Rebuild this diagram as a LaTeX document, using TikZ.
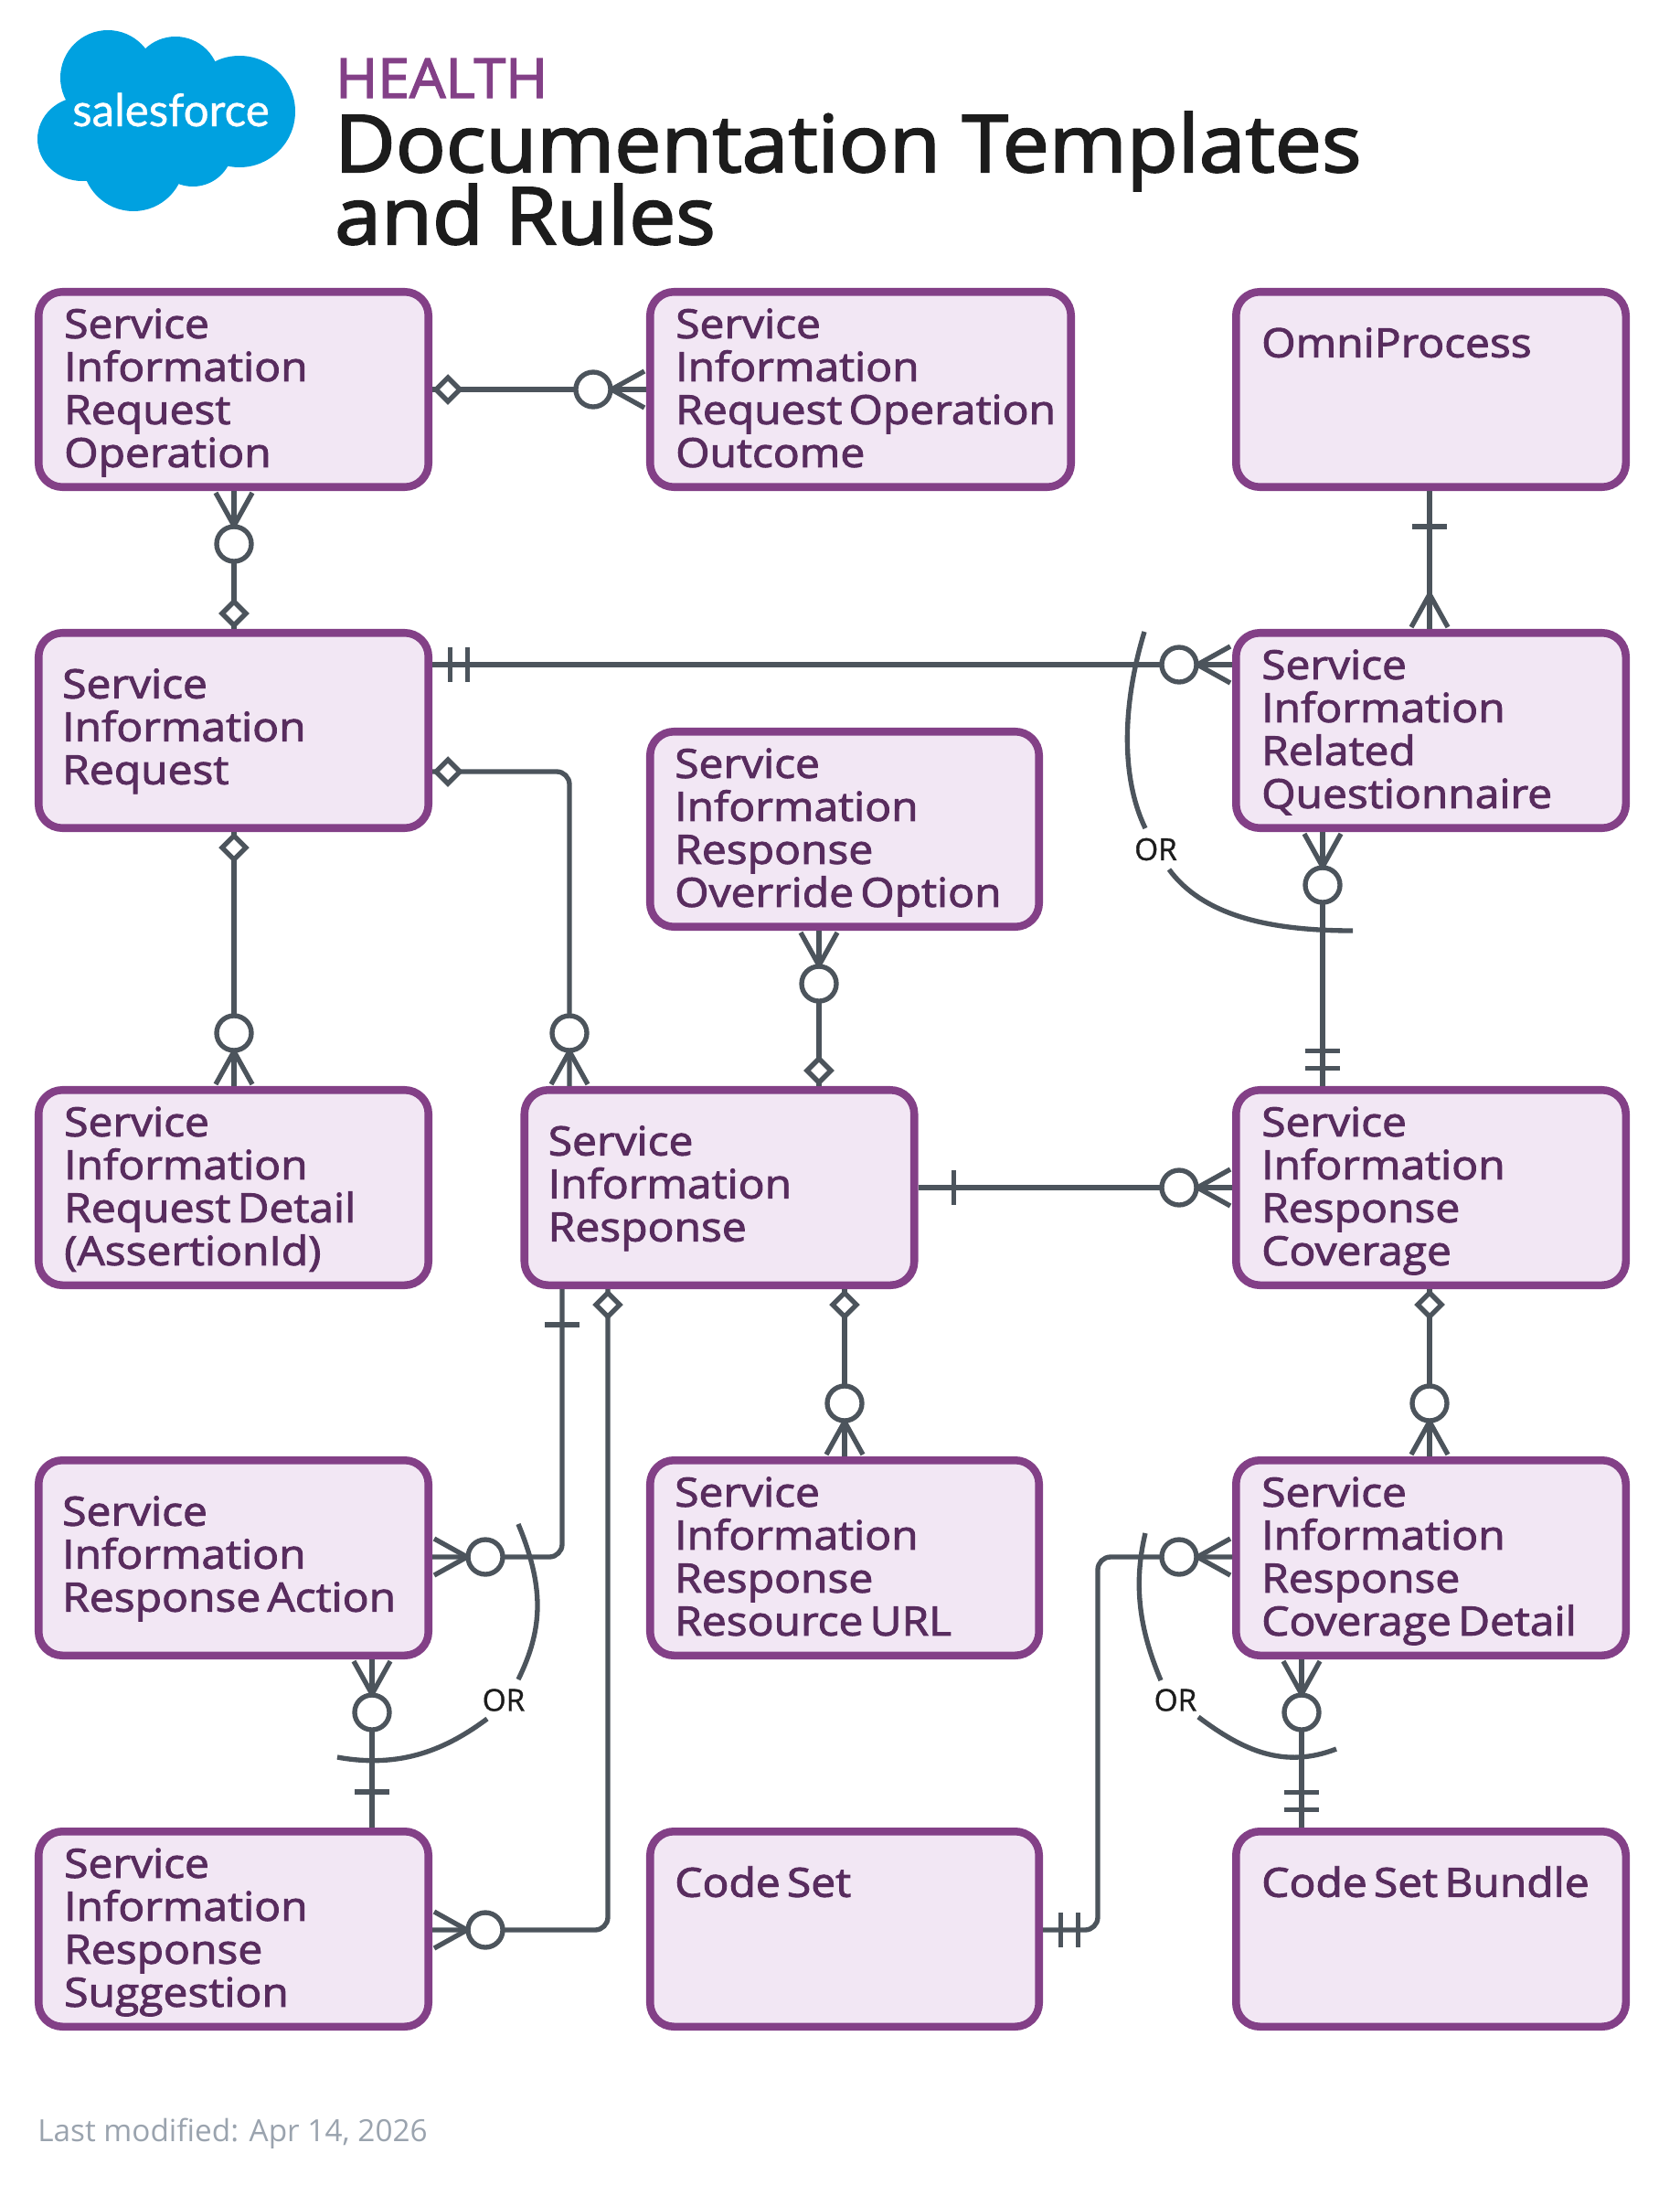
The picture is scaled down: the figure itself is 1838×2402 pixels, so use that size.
\documentclass[tikz,border=0pt]{standalone}
\usepackage{fontspec}
\setmainfont{Open Sans}
\newfontfamily\erfont{Open Sans}[FakeBold=2.2,FakeStretch=1.09]
\newfontfamily\ttlfont{Open Sans}[FakeBold=2.4,FakeStretch=1.053]
\newfontfamily\hlfont{Open Sans}[FakeBold=2.4,FakeStretch=1.04]
\newfontfamily\orfont{Open Sans}[FakeBold=1]
\newfontfamily\logofont{Lato}[FakeBold=0.8]
\definecolor{boxline}{HTML}{834087}
\definecolor{boxfill}{HTML}{F2E7F4}
\definecolor{boxtext}{HTML}{582C5E}
\definecolor{conncol}{HTML}{4C545C}
\definecolor{sfblue}{HTML}{00A1E0}
\definecolor{titlecol}{HTML}{1C1C1C}
\definecolor{footcol}{HTML}{9AA3AE}
\newcommand\erstrut{\spaceskip=5.4pt\relax\rule[-8pt]{0pt}{37.5pt}}
\newcommand\erend{\rule[-8pt]{0pt}{1pt}}
\newcommand\erdeep{\rule[-12pt]{0pt}{1pt}}
\tikzset{
  entity/.style n args={2}{draw=boxline,fill=boxfill,line width=6.4pt,rounded corners=19.5pt,
    align=left,font=\erfont\fontsize{33}{35.25}\selectfont,text=boxtext,
    minimum height={(222-8.5)*0.75pt},inner ysep=0pt,
    text width={(#1-8.5-2*#2)*0.75pt},inner xsep={#2*0.75pt},
    execute at begin node=\erstrut,execute at end node=\erend},
  conn/.style={draw=conncol,line width=4pt},
  er/.style={draw=conncol,line width=4pt,fill=none},
  erw/.style={draw=conncol,line width=4pt,fill=white},
  orlabel/.style={font=\orfont\fontsize{25}{25}\selectfont,text=titlecol,inner sep=0pt},
}
\newcommand\ermany[2]{\begin{scope}[shift={#1},rotate=#2]\draw[er] (2,-20)--(38,0)--(2,20);\end{scope}}
\newcommand\ermanyz[2]{\begin{scope}[shift={#1},rotate=#2]\draw[er] (2,-20)--(38,0)--(2,20);\draw[erw] (58,0) circle (19);\end{scope}}
\newcommand\erdia[2]{\begin{scope}[shift={#1},rotate=#2]\draw[erw] (4,0)--(17,-13)--(30,0)--(17,13)--cycle;\end{scope}}
\newcommand\erone[2]{\begin{scope}[shift={#1},rotate=#2]\draw[er] (39,-19)--(39,19);\end{scope}}
\newcommand\ertwo[2]{\begin{scope}[shift={#1},rotate=#2]\draw[er] (19.5,-19)--(19.5,19) (38.5,-19)--(38.5,19);\end{scope}}
\begin{document}
\begin{tikzpicture}[x=0.75pt,y=-0.75pt]
\useasboundingbox (0,0) rectangle (1838,2402);
% logo
\fill[sfblue] (118,85) circle (52) (192,88) circle (48) (262,122) circle (61)
  (90,152) ellipse (49 and 46) (146,175) circle (56) (211,160) circle (44) (175,125) circle (65);
\node[inner sep=0pt,anchor=base,text=white,font=\logofont\fontsize{37}{37}\selectfont] (logo) at (187,138) {salesforce};
% titles
\node[anchor=base west,inner sep=0pt,text=boxline,font=\hlfont\fontsize{45}{45}\selectfont] (health) at (367,107) {HEALTH};
\node[anchor=base west,inner sep=0pt,text=titlecol,font=\ttlfont\fontsize{65}{59.25}\selectfont] (title1) at (366,188) {Documentation Templates};
\node[anchor=base west,inner sep=0pt,text=titlecol,font=\ttlfont\fontsize{65}{59.25}\selectfont] (title2) at (366,267) {and Rules};
\node[anchor=base west,inner sep=0pt,text=footcol,font=\fontsize{25}{25}\selectfont] (foot) at (41,2342) {Last modified: Apr 14, 2026};
% entities
\node[entity={435}{28}] (A) at (255.5,426) {Service\\Information\\Request\\Operation};
\node[entity={469}{28}] (B) at (941.5,426) {Service\\Information\\\mbox{Request Operation}\\Outcome};
\node[entity={435}{28}] (C) at (1565.5,426) {OmniProcess\\~\\~\erdeep};
\node[entity={435}{26}] (D) at (255.5,799) {Service\\Information\\Request\erdeep};
\node[entity={435}{28}] (E) at (1565.5,799) {Service\\Information\\Related\\Questionnaire};
\node[entity={434}{27}] (F) at (924,907) {Service\\Information\\Response\\Override Option};
\node[entity={435}{28}] (G) at (255.5,1299) {Service\\Information\\Request Detail\\(AssertionId)};
\node[entity={435}{26}] (H) at (787,1299) {Service\\Information\\Response\erdeep};
\node[entity={435}{28}] (I) at (1565.5,1299) {Service\\Information\\Response\\Coverage};
\node[entity={435}{26}] (J) at (255.5,1704) {Service\\Information\\\mbox{Response Action}\erdeep};
\node[entity={434}{27}] (K) at (924,1704) {Service\\Information\\Response\\Resource URL};
\node[entity={435}{28}] (L) at (1565.5,1704) {Service\\Information\\Response\\\mbox{Coverage Detail}};
\node[entity={435}{28}] (M) at (255.5,2110) {Service\\Information\\Response\\Suggestion};
\node[entity={434}{27}] (N) at (924,2110) {Code Set\\~\\~\erdeep};
\node[entity={435}{28}] (O) at (1565.5,2110) {\mbox{Code Set Bundle}\\~\\~\erdeep};
% guide coordinates
\coordinate (xAD) at (256,0);
\coordinate (xDG) at (256,0);
\coordinate (xDH) at (623,0);
\coordinate (xFH) at (896,0);
\coordinate (xCE) at (1564,0);
\coordinate (xEI) at (1447,0);
\coordinate (xHJ) at (615,0);
\coordinate (xHM) at (665,0);
\coordinate (xHK) at (924,0);
\coordinate (xIL) at (1564,0);
\coordinate (xJM) at (407,0);
\coordinate (xLO) at (1424,0);
\coordinate (xNL) at (1201,0);
\coordinate (yAB) at (0,426);
\coordinate (yDE) at (0,727);
\coordinate (yDH) at (0,844);
\coordinate (yHI) at (0,1299);
\coordinate (yJ) at (0,1703);
\coordinate (yM) at (0,2111);
% connectors
\draw[conn] (A.east |- yAB) -- (B.west |- yAB);
\erdia{(A.east |- yAB)}{0}\ermanyz{(B.west |- yAB)}{180}
\draw[conn] (A.south -| xAD) -- (D.north -| xAD);
\ermanyz{(A.south -| xAD)}{270}\erdia{(D.north -| xAD)}{90}
\draw[conn] (D.east |- yDE) -- (E.west |- yDE);
\ertwo{(D.east |- yDE)}{0}\ermanyz{(E.west |- yDE)}{180}
\draw[conn,rounded corners=10.5pt] (D.east |- yDH) -- (xDH |- yDH) -- (H.north -| xDH);
\erdia{(D.east |- yDH)}{0}\ermanyz{(H.north -| xDH)}{90}
\draw[conn] (D.south -| xDG) -- (G.north -| xDG);
\erdia{(D.south -| xDG)}{270}\ermanyz{(G.north -| xDG)}{90}
\draw[conn] (F.south -| xFH) -- (H.north -| xFH);
\ermanyz{(F.south -| xFH)}{270}\erdia{(H.north -| xFH)}{90}
\draw[conn] (C.south -| xCE) -- (E.north -| xCE);
\erone{(C.south -| xCE)}{270}\ermany{(E.north -| xCE)}{90}
\draw[conn] (E.south -| xEI) -- (I.north -| xEI);
\ermanyz{(E.south -| xEI)}{270}\ertwo{(I.north -| xEI)}{90}
\draw[conn] (H.east |- yHI) -- (I.west |- yHI);
\erone{(H.east |- yHI)}{0}\ermanyz{(I.west |- yHI)}{180}
\draw[conn,rounded corners=10.5pt] (H.south -| xHJ) -- (xHJ |- yJ) -- (J.east |- yJ);
\erone{(H.south -| xHJ)}{270}\ermanyz{(J.east |- yJ)}{0}
\draw[conn,rounded corners=10.5pt] (H.south -| xHM) -- (xHM |- yM) -- (M.east |- yM);
\erdia{(H.south -| xHM)}{270}\ermanyz{(M.east |- yM)}{0}
\draw[conn] (H.south -| xHK) -- (K.north -| xHK);
\erdia{(H.south -| xHK)}{270}\ermanyz{(K.north -| xHK)}{90}
\draw[conn] (I.south -| xIL) -- (L.north -| xIL);
\erdia{(I.south -| xIL)}{270}\ermanyz{(L.north -| xIL)}{90}
\draw[conn] (J.south -| xJM) -- (M.north -| xJM);
\ermanyz{(J.south -| xJM)}{270}\erone{(M.north -| xJM)}{90}
\draw[conn,rounded corners=10.5pt] (N.east |- yM) -- (xNL |- yM) -- (xNL |- yJ) -- (L.west |- yJ);
\ertwo{(N.east |- yM)}{0}\ermanyz{(L.west |- yJ)}{180}
\draw[conn] (L.south -| xLO) -- (O.north -| xLO);
\ermanyz{(L.south -| xLO)}{270}\ertwo{(O.north -| xLO)}{90}
% OR arcs
\node[orlabel] (or1) at (1264.5,929) {OR};
\node[orlabel] (or2) at (551,1859.5) {OR};
\node[orlabel] (or3) at (1286,1859.5) {OR};
\draw[er] (1252,691) .. controls (1228,770) and (1226,850) .. (1253,906);
\draw[er] (1279,951) .. controls (1315,1000) and (1385,1018) .. (1480,1018);
\draw[er] (567,1667) .. controls (595,1735) and (595,1780) .. (567,1837);
\draw[er] (533,1880) .. controls (490,1912) and (440,1935) .. (369,1922);
\draw[er] (1253,1677) .. controls (1238,1740) and (1250,1790) .. (1270,1838);
\draw[er] (1311,1878) .. controls (1360,1915) and (1405,1935) .. (1462,1913);
\end{tikzpicture}
\end{document}
